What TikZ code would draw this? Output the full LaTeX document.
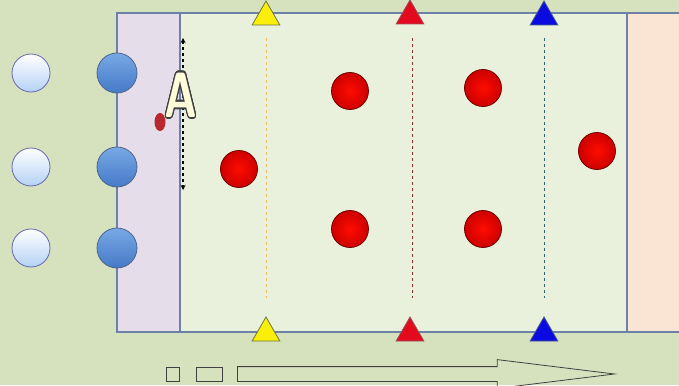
\documentclass[tikz,border=0pt]{standalone}
\usepackage{tikz}
\usepackage{contour}
\usetikzlibrary{shapes,shapes.arrows,shapes.geometric,positioning,calc}
\definecolor{pitchbg}{RGB}{214,225,190}
\definecolor{startzone}{RGB}{229,222,234}
\definecolor{mainzone}{RGB}{233,240,220}
\definecolor{endzone}{RGB}{250,229,212}
\definecolor{edge}{RGB}{108,128,168}
\definecolor{coneyellow}{RGB}{250,238,10}
\definecolor{conered}{RGB}{228,10,30}
\definecolor{coneblue}{RGB}{10,10,225}
\definecolor{starttop}{RGB}{120,168,228}
\definecolor{startbot}{RGB}{68,122,200}
\definecolor{waitbot}{RGB}{180,210,245}
\contourlength{1.8pt}

\begin{document}
\begin{tikzpicture}[x=1pt, y=-1pt,
  every node/.style={inner sep=0pt},
  waiting/.style={circle, minimum size=38pt, draw=black!50!blue!60, thick,
                  top color=white, bottom color=waitbot},
  starter/.style={circle, minimum size=40pt, draw={rgb,255:red,80;green,100;blue,140}, thick,
                  top color=starttop, bottom color=startbot},
  defender/.style={circle, minimum size=37pt, draw=red!45!black, thick,
                   inner color=red!90!orange, outer color=red!80!black},
  cone/.style={regular polygon, regular polygon sides=3, minimum size=32pt,
               draw=black!55, thick},
  lane/.style={dashed, thick}
]
  \useasboundingbox (0,0) rectangle (679,385);
  \fill[pitchbg] (0,0) rectangle (679,385);
  % zones
  \fill[startzone] (117,13) rectangle (180,332);
  \fill[mainzone] (180,13) rectangle (627,332);
  \fill[endzone] (627,13) rectangle (679,332);
  \draw[edge, line width=2.2pt] (682,13) -- (117,13) -- (117,332) -- (682,332);
  \draw[edge, line width=2.2pt] (180,13) -- (180,332);
  \draw[edge, line width=2.2pt] (627,13) -- (627,332);

  % lanes
  \coordinate (ly1) at (266,38);  \coordinate (ly2) at (266,298);
  \coordinate (lr1) at (412,38);  \coordinate (lr2) at (412,298);
  \coordinate (lb1) at (544,38);  \coordinate (lb2) at (544,298);
  \draw[lane, draw={rgb,255:red,240;green,190;blue,100}] (ly1) -- (ly2);
  \draw[lane, draw={rgb,255:red,140;green,50;blue,40}] (lr1) -- (lr2);
  \draw[lane, draw={rgb,255:red,50;green,100;blue,110}] (lb1) -- (lb2);

  % cones
  \node[cone, fill=coneyellow, draw={rgb,255:red,110;green,120;blue,60}] (cy1) at (266,17) {};
  \node[cone, fill=conered, draw={rgb,255:red,150;green,80;blue,90}] (cr1) at (410,16) {};
  \node[cone, fill=coneblue, draw={rgb,255:red,70;green,90;blue,140}] (cb1) at (544,17) {};
  \node[cone, fill=coneyellow, draw={rgb,255:red,110;green,120;blue,60}] (cy2) at (266,333) {};
  \node[cone, fill=conered, draw={rgb,255:red,150;green,80;blue,90}] (cr2) at (410,333) {};
  \node[cone, fill=coneblue, draw={rgb,255:red,70;green,90;blue,140}] (cb2) at (544,333) {};

  % players
  \foreach \y [count=\i] in {73,167,248} {
    \node[waiting] (w\i) at (31,\y) {};
    \node[starter] (s\i) at (117,\y) {};
  }
  \node[defender] (d1) at (239,169) {};
  \node[defender] (d2) at (350,91) {};
  \node[defender] (d3) at (350,229) {};
  \node[defender] (d4) at (483,88) {};
  \node[defender] (d5) at (483,229) {};
  \node[defender] (d6) at (597,151) {};

  % width A
  \coordinate (at) at (183,38);
  \coordinate (ab) at (183,190);
  \draw[<->, >=stealth, dashed, line width=1.3pt] (at) -- (ab);
  \node[ellipse, minimum width=11pt, minimum height=18pt,
        fill={rgb,255:red,185;green,40;blue,45}] (ball) at (160,122) {};
  \node[xscale=0.7, font=\fontsize{64}{64}\selectfont\sffamily\bfseries]
    (lblA) at (181,96) {\contour{black!75}{\color{white!85!yellow}A}};

  % direction
  \node[draw=black!75, thick, minimum width=13pt, minimum height=14pt] (sq1) at (173,374) {};
  \node[draw=black!75, thick, minimum width=26pt, minimum height=14pt] (sq2) at (209,374) {};
  \node[single arrow, draw=black!75, thick, anchor=west, inner xsep=0pt, inner ysep=7pt,
        minimum height=377pt, single arrow head extend=7pt,
        single arrow tip angle=14] (flow) at (237,374) {};
\end{tikzpicture}
\end{document}
